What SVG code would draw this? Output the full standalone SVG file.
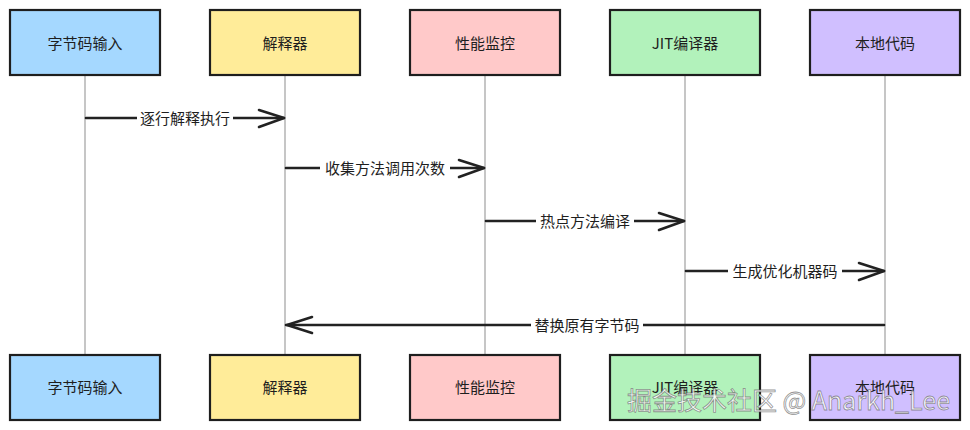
<svg xmlns="http://www.w3.org/2000/svg" width="970" height="430" viewBox="0 0 970 430">
<style>
.box{stroke:#1e1e1e;stroke-width:2.2}
.t{font-family:"Noto Sans CJK SC","Noto Sans",sans-serif;font-size:15px;fill:#1e1e1e;text-anchor:middle;dominant-baseline:central}
.life{stroke:#a0a0a0;stroke-width:1.2}
.msg{stroke:#222;stroke-width:2.6;fill:none;stroke-linecap:round}
.head{stroke:#222;stroke-width:2.6;fill:none;stroke-linecap:round;stroke-linejoin:round}
.lbg{fill:#fff}
.lt{font-family:"Noto Sans CJK SC","Noto Sans",sans-serif;font-size:15px;fill:#1e1e1e;text-anchor:middle;dominant-baseline:central}
.wm{font-family:"Noto Sans CJK SC","Noto Sans",sans-serif;font-size:25px;fill:#ffffff;fill-opacity:0.85;stroke:#666;stroke-width:0.8;stroke-opacity:0.7}
</style>
<rect width="970" height="430" fill="#ffffff"/>
<g id="lifelines">
<line class="life" x1="85" y1="75" x2="85" y2="355"/>
<line class="life" x1="285" y1="75" x2="285" y2="355"/>
<line class="life" x1="485" y1="75" x2="485" y2="355"/>
<line class="life" x1="685" y1="75" x2="685" y2="355"/>
<line class="life" x1="885" y1="75" x2="885" y2="355"/>
</g>
<g id="n1"><rect class="box" x="10" y="10" width="150" height="65" fill="#a5d8ff"/><text class="t" x="85" y="42">字节码输入</text></g>
<g id="n2"><rect class="box" x="210" y="10" width="150" height="65" fill="#ffec99"/><text class="t" x="285" y="42">解释器</text></g>
<g id="n3"><rect class="box" x="410" y="10" width="150" height="65" fill="#ffc9c9"/><text class="t" x="485" y="42">性能监控</text></g>
<g id="n4"><rect class="box" x="610" y="10" width="150" height="65" fill="#b2f2bb"/><text class="t" x="685" y="42">JIT编译器</text></g>
<g id="n5"><rect class="box" x="810" y="10" width="150" height="65" fill="#d0bfff"/><text class="t" x="885" y="42">本地代码</text></g>
<g id="n1b"><rect class="box" x="10" y="355" width="150" height="65" fill="#a5d8ff"/><text class="t" x="85" y="386">字节码输入</text></g>
<g id="n2b"><rect class="box" x="210" y="355" width="150" height="65" fill="#ffec99"/><text class="t" x="285" y="386">解释器</text></g>
<g id="n3b"><rect class="box" x="410" y="355" width="150" height="65" fill="#ffc9c9"/><text class="t" x="485" y="386">性能监控</text></g>
<g id="n4b"><rect class="box" x="610" y="355" width="150" height="65" fill="#b2f2bb"/><text class="t" x="685" y="386">JIT编译器</text></g>
<g id="n5b"><rect class="box" x="810" y="355" width="150" height="65" fill="#d0bfff"/><text class="t" x="885" y="386">本地代码</text></g>
<g id="connectors">
<line class="msg" x1="86" y1="118" x2="284" y2="118"/>
<polyline class="head" points="259,110 284,118 259,127"/>
<rect class="lbg" x="137" y="109" width="96" height="18"/>
<text class="lt" x="185" y="117">逐行解释执行</text>

<line class="msg" x1="286" y1="168" x2="484" y2="168"/>
<polyline class="head" points="459,160 484,168 459,177"/>
<rect class="lbg" x="320" y="159" width="130" height="18"/>
<text class="lt" x="385" y="167">收集方法调用次数</text>

<line class="msg" x1="486" y1="221" x2="684" y2="221"/>
<polyline class="head" points="659,213 684,221 659,230"/>
<rect class="lbg" x="536" y="212" width="98" height="18"/>
<text class="lt" x="585" y="220">热点方法编译</text>

<line class="msg" x1="686" y1="271" x2="884" y2="271"/>
<polyline class="head" points="859,263 884,271 859,280"/>
<rect class="lbg" x="728" y="262" width="114" height="18"/>
<text class="lt" x="785" y="270">生成优化机器码</text>

<line class="msg" x1="884" y1="325" x2="286" y2="325"/>
<polyline class="head" points="312,317 287,325 312,333"/>
<rect class="lbg" x="531" y="316" width="112" height="18"/>
<text class="lt" x="587" y="324">替换原有字节码</text>
</g>
<text class="wm" x="627" y="410">掘金技术社区 @ Anarkh_Lee</text>
</svg>
